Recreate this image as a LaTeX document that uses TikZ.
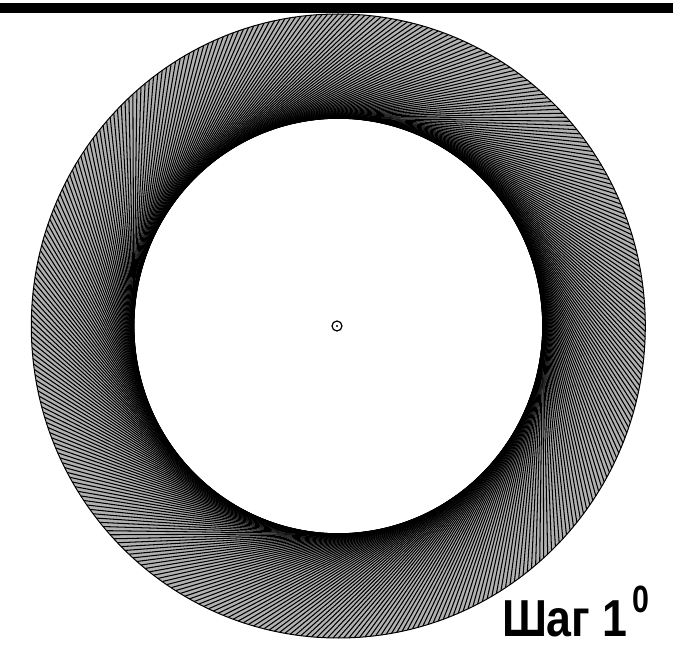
\documentclass[tikz,border=0pt]{standalone}
\usepackage{fontspec}
\setmainfont{Liberation Sans}
\begin{document}
\begin{tikzpicture}[x=1pt,y=1pt,
  ray/.style={line width=1.05pt,black},
  rim/.style={line width=1pt,black},
  lbl/.style={inner sep=0pt,outer sep=0pt,font=\bfseries}]
\useasboundingbox (0,0) rectangle (673,657);
\fill[white] (0,0) rectangle (673,657);
\fill[black] (0,644.3) rectangle (673,654.2);
\begin{scope}[shift={(338.3,331)},xscale=307,yscale=312]
  \fill[black!30,even odd rule] (0,0) circle (1) (0,0) circle (0.666);
  \foreach \t in {0,...,359} \draw[ray] (\t:1) -- (\t+48.2:0.666);
  \draw[rim] (0,0) circle (1);
  \draw[rim] (0,0) circle (0.666);
\end{scope}
\node[circle,draw,line width=1.2pt,minimum size=10pt,inner sep=0pt] (centre) at (337,331) {};
\fill (centre.center) circle (1.1pt);
\node[lbl,anchor=base west] (label) at (502,20) {\scalebox{0.86}[1]{\fontsize{52}{52}\selectfont Шаг 1}};
\node[lbl,anchor=south west] (sup) at (632,44) {\scalebox{0.8}[1]{\fontsize{38}{38}\selectfont 0}};
\end{tikzpicture}
\end{document}
